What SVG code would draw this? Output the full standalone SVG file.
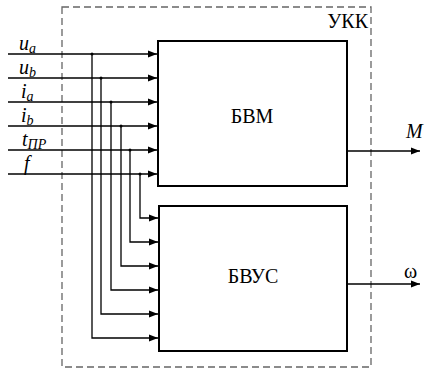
<svg xmlns="http://www.w3.org/2000/svg" width="430" height="370" viewBox="0 0 430 370">
<style>
.ln{stroke:#000;stroke-width:1.3;fill:none}
.bx{stroke:#000;stroke-width:2;fill:#fff}
</style>
<defs>
<marker id="a" markerWidth="10" markerHeight="8" refX="9" refY="4" orient="auto" markerUnits="userSpaceOnUse">
<path d="M0,0.5 L9,4 L0,7.5 Z" fill="#000"/>
</marker>
</defs>
<g font-family="Liberation Serif, Times New Roman, serif" font-size="20" fill="#000">
<rect x="62" y="7" width="309" height="360" fill="none" stroke="#666" stroke-width="1.3" stroke-dasharray="7,4"/>
<text x="368" y="28" text-anchor="end">УКК</text>
<g id="bvm"><rect class="bx" x="158" y="41" width="189" height="145"/><text x="252" y="123" text-anchor="middle">БВМ</text></g>
<g id="bvus"><rect class="bx" x="159" y="206" width="188" height="145"/><text x="253" y="283" text-anchor="middle">БВУС</text></g>
<g id="labels" font-style="italic">
<text x="19" y="50">u<tspan font-size="14" dy="3">a</tspan></text>
<text x="19" y="74">u<tspan font-size="14" dy="3">b</tspan></text>
<text x="21" y="98">i<tspan font-size="14" dy="3">a</tspan></text>
<text x="21" y="122">i<tspan font-size="14" dy="3">b</tspan></text>
<text x="22" y="146">t<tspan font-size="14" dy="3">ПР</tspan></text>
<text x="24" y="170">f</text>
<text x="406" y="138">M</text>
<text x="404" y="278" font-style="normal">ω</text>
</g>
<g id="connectors">
<path class="ln" d="M8,54H157" marker-end="url(#a)"/>
<path class="ln" d="M8,78H157" marker-end="url(#a)"/>
<path class="ln" d="M8,102H157" marker-end="url(#a)"/>
<path class="ln" d="M8,126H157" marker-end="url(#a)"/>
<path class="ln" d="M8,150H157" marker-end="url(#a)"/>
<path class="ln" d="M8,174H157" marker-end="url(#a)"/>
<path class="ln" d="M92,54V338H158" marker-end="url(#a)"/>
<path class="ln" d="M101,78V314H158" marker-end="url(#a)"/>
<path class="ln" d="M111,102V290H158" marker-end="url(#a)"/>
<path class="ln" d="M121,126V266H158" marker-end="url(#a)"/>
<path class="ln" d="M130,150V242H158" marker-end="url(#a)"/>
<path class="ln" d="M140,174V218H158" marker-end="url(#a)"/>
<path class="ln" d="M347,151H420" marker-end="url(#a)"/>
<path class="ln" d="M347,284H420" marker-end="url(#a)"/>
<g fill="#000"><circle cx="92" cy="54" r="1.5"/><circle cx="101" cy="78" r="1.5"/><circle cx="111" cy="102" r="1.5"/><circle cx="121" cy="126" r="1.5"/><circle cx="130" cy="150" r="1.5"/><circle cx="140" cy="174" r="1.5"/></g>
</g>
</g>
</svg>
